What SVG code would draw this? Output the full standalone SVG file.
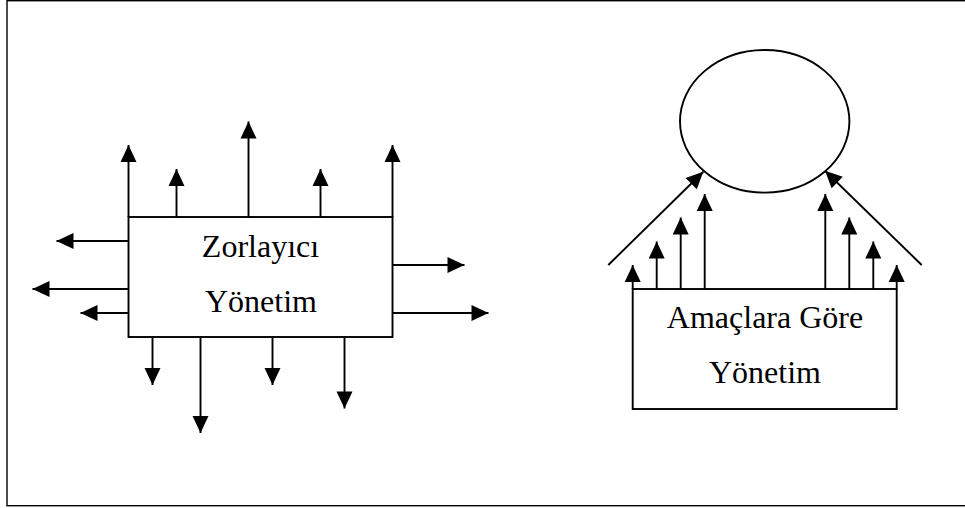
<svg xmlns="http://www.w3.org/2000/svg" width="965" height="508" viewBox="0 0 965 508">
  <defs>
    <marker id="head" markerUnits="userSpaceOnUse" markerWidth="17" markerHeight="16" refX="17" refY="8" orient="auto" overflow="visible">
      <path d="M0,0 L17,8 L0,16 Z" fill="#000"/>
    </marker>
    <style>
      .box { fill: #fff; stroke: #000; stroke-width: 1.9; }
      .arrow { stroke: #000; stroke-width: 1.9; fill: none; marker-end: url(#head); }
      .label { font-family: "Liberation Serif", "Times New Roman", serif; font-size: 32px; fill: #000; text-anchor: middle; }
      .frame { fill: none; stroke: #000; stroke-width: 1.4; }
    </style>
  </defs>
  <rect width="965" height="508" fill="#fff"/>
  <rect class="frame" x="7" y="0.7" width="970" height="505"/>

  <g id="connectors">
    <!-- outward arrows around the left box -->
    <line class="arrow" x1="128.5" y1="217" x2="128.5" y2="145"/>
    <line class="arrow" x1="176.5" y1="217" x2="176.5" y2="169"/>
    <line class="arrow" x1="248.5" y1="217" x2="248.5" y2="121.5"/>
    <line class="arrow" x1="320.5" y1="217" x2="320.5" y2="169"/>
    <line class="arrow" x1="392.5" y1="217" x2="392.5" y2="145"/>
    <line class="arrow" x1="128.5" y1="241" x2="56.5" y2="241"/>
    <line class="arrow" x1="128.5" y1="289" x2="32.5" y2="289"/>
    <line class="arrow" x1="128.5" y1="313" x2="80.5" y2="313"/>
    <line class="arrow" x1="392.5" y1="265" x2="464.5" y2="265"/>
    <line class="arrow" x1="392.5" y1="313" x2="488.5" y2="313"/>
    <line class="arrow" x1="152.5" y1="337" x2="152.5" y2="385"/>
    <line class="arrow" x1="200.5" y1="337" x2="200.5" y2="433"/>
    <line class="arrow" x1="272.5" y1="337" x2="272.5" y2="385"/>
    <line class="arrow" x1="344.5" y1="337" x2="344.5" y2="408.5"/>
    <!-- converging arrows towards the goal ellipse -->
    <line class="arrow" x1="632.7" y1="289" x2="632.7" y2="265"/>
    <line class="arrow" x1="656.7" y1="289" x2="656.7" y2="241.5"/>
    <line class="arrow" x1="680.7" y1="289" x2="680.7" y2="217.5"/>
    <line class="arrow" x1="704.7" y1="289" x2="704.7" y2="194"/>
    <line class="arrow" x1="825.3" y1="289" x2="825.3" y2="194"/>
    <line class="arrow" x1="849.3" y1="289" x2="849.3" y2="217.5"/>
    <line class="arrow" x1="873.3" y1="289" x2="873.3" y2="241.5"/>
    <line class="arrow" x1="896.7" y1="289" x2="896.7" y2="265"/>
    <line class="arrow" x1="608.3" y1="265" x2="703.3" y2="171.7"/>
    <line class="arrow" x1="921.7" y1="265" x2="825" y2="170.7"/>
  </g>

  <g id="zorlayici">
    <rect class="box" x="128.5" y="217" width="264" height="120"/>
    <text class="label" x="260.5" y="256.5">Zorlayıcı</text>
    <text class="label" x="261" y="311.5">Yönetim</text>
  </g>

  <g id="hedef">
    <ellipse class="box" cx="764.7" cy="121.3" rx="84.7" ry="71.3"/>
  </g>

  <g id="amaclara-gore">
    <rect class="box" x="632.7" y="289" width="264" height="120"/>
    <text class="label" x="765" y="328.3">Amaçlara Göre</text>
    <text class="label" x="765" y="383.3">Yönetim</text>
  </g>
</svg>
